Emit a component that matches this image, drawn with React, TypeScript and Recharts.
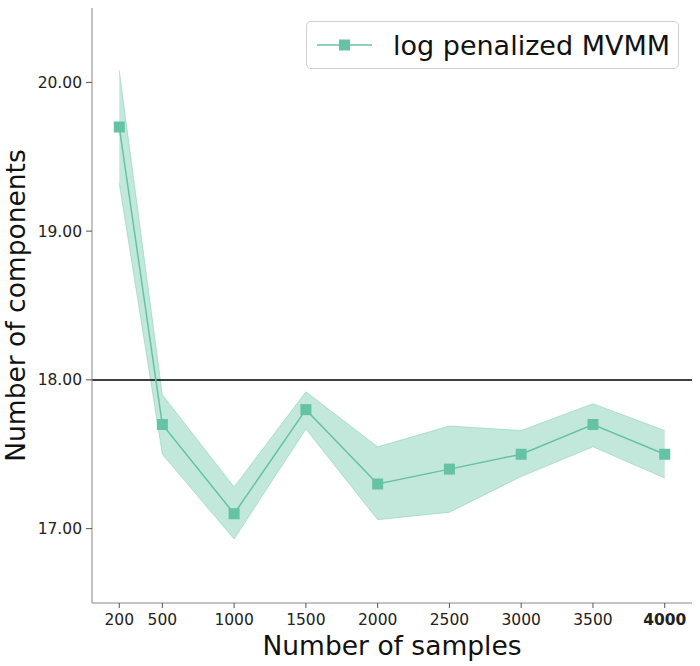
import React from 'react';
import { ComposedChart, Line, Area, XAxis, YAxis, ReferenceLine } from 'recharts';

const samples = [200, 500, 1000, 1500, 2000, 2500, 3000, 3500, 4000];
const meanComponents = [19.7, 17.7, 17.1, 17.8, 17.3, 17.4, 17.5, 17.7, 17.5];
const lowerBand = [19.32, 17.5, 16.93, 17.67, 17.06, 17.11, 17.35, 17.55, 17.34];
const upperBand = [20.08, 17.9, 17.28, 17.92, 17.55, 17.69, 17.66, 17.84, 17.66];
const yTicks = [17, 18, 19, 20];

const GREEN = '#66c2a5';
const FONT = '"DejaVu Sans", sans-serif';

const data = samples.map((n, i) => ({
  n,
  mean: meanComponents[i],
  band: [lowerBand[i], upperBand[i]],
}));

const SquareDot = (props: any) => {
  const { cx, cy } = props;
  if (cx == null || cy == null) return null;
  return <rect x={cx - 5.5} y={cy - 5.5} width={11} height={11} fill={GREEN} />;
};

const XTick = (props: any) => {
  const { x, y, payload } = props;
  const bold = payload.value === 4000;
  return (
    <text x={x} y={y} dy="0.75em" textAnchor="middle" fontSize={15.5} fill="#222"
      fontFamily={FONT} fontWeight={bold ? 'bold' : 'normal'}>
      {payload.value}
    </text>
  );
};

const LegendBox = () => (
  <div style={{
    position: 'absolute', left: 306, top: 21,
    width: 371, height: 46, border: '1px solid #d0d0d0', borderRadius: 5, background: '#fff',
    display: 'flex', alignItems: 'center', fontFamily: FONT, fontSize: 27, color: '#111',
  }}>
    <svg width={76} height={20} style={{ marginLeft: 8, flexShrink: 0 }}>
      <line x1={2} y1={10} x2={57} y2={10} stroke={GREEN} strokeWidth={1.5} />
      <rect x={24} y={4.5} width={11} height={11} fill={GREEN} />
    </svg>
    <span style={{ marginLeft: 2, whiteSpace: 'nowrap' }}>log penalized MVMM</span>
  </div>
);

export default function App() {
  return (
    <div style={{ position: 'absolute', left: 0, top: 0, width: 700, height: 666, background: '#fff' }}>
      <ComposedChart width={700} height={666} data={data}
        margin={{ top: 8, right: 8, left: 0, bottom: 0 }}>
        <XAxis dataKey="n" type="number" domain={[10, 4190]} ticks={samples}
          tick={<XTick />} tickSize={5} tickMargin={5} height={63}
          stroke="#888" tickLine={{ stroke: '#555' }}
          label={{ value: 'Number of samples', position: 'insideBottom', offset: 11,
            fontSize: 26.5, fill: '#111', fontFamily: FONT }} />
        <YAxis type="number" domain={[16.5, 20.5]} ticks={yTicks} width={92}
          tickFormatter={(v: number) => v.toFixed(2)} tickSize={6} tickMargin={4}
          stroke="#888" tickLine={{ stroke: '#555' }}
          tick={{ fontSize: 15.5, fill: '#222', fontFamily: FONT }}
          label={{ value: 'Number of components', angle: -90, position: 'insideLeft', offset: 16,
            style: { textAnchor: 'middle' }, fontSize: 26.5, fill: '#111', fontFamily: FONT }} />
        <Area dataKey="band" type="linear" fill={GREEN} fillOpacity={0.4}
          stroke={GREEN} strokeOpacity={0.4} strokeWidth={1} isAnimationActive={false}
          dot={false} activeDot={false} legendType="none" />
        <ReferenceLine y={18} stroke="#000" strokeWidth={1.5} />
        <Line dataKey="mean" type="linear" stroke={GREEN} strokeWidth={1.5}
          dot={<SquareDot />} activeDot={false} isAnimationActive={false} />
      </ComposedChart>
      <LegendBox />
    </div>
  );
}
